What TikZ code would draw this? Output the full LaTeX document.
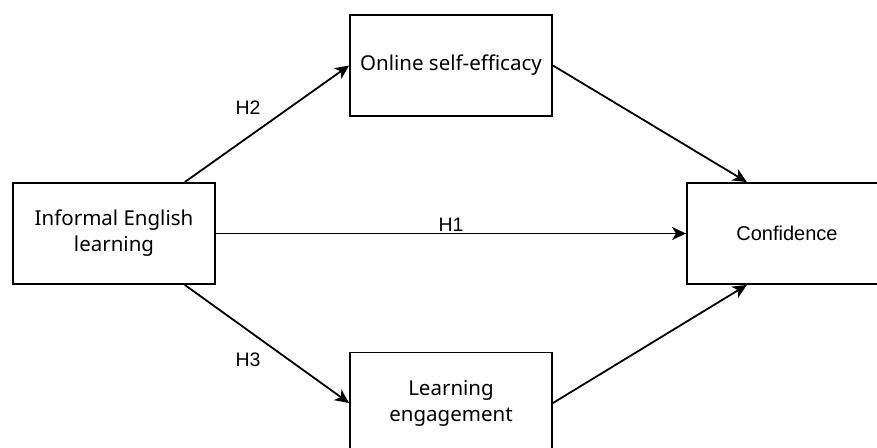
\documentclass[tikz,border=0pt]{standalone}
\usepackage{fontspec}
\newfontfamily\notosans{Noto Sans}
\newfontfamily\arialsans{Liberation Sans}
\usetikzlibrary{arrows.meta}

\begin{document}
\begin{tikzpicture}[x=1pt,y=-1pt,
    box/.style={draw, line width=1.9pt, minimum width=202pt, minimum height=101pt, align=center, inner sep=0pt},
    var/.style={box, font=\notosans\fontsize{20.5}{26}\selectfont},
    arr/.style={line width=1.8pt, -{Stealth[length=14pt,width=13pt,inset=4pt]}},
    hyp/.style={font=\arialsans\fontsize{19.5}{22}\selectfont, inner sep=1pt}]
    \clip (0,0) rectangle (877,447);

    % boxes (the right and bottom ones run past the edge)
    \node[var] (I) at (114,233.5) {Informal English\\learning};
    \node[var] (O) at (451,65.5) {Online self-efficacy};
    \node[var] (L) at (451,403) {Learning\\engagement};
    \node[box, minimum width=200pt, font=\arialsans\fontsize{20}{22}\selectfont] (C) at (787,233.5) {Confidence};

    % paths
    \draw[arr] (I) -- node[hyp, above] (h1) {H1} (C);
    \draw[arr] (I.36) -- (O.west);
    \draw[arr] (I.-36) -- (L.west);
    \draw[arr] (O.east) -- (C.128);
    \draw[arr] (L.east) -- (C.-128);

    \node[hyp] (h2) at (248,108) {H2};
    \node[hyp] (h3) at (248,360) {H3};

\end{tikzpicture}
\end{document}
